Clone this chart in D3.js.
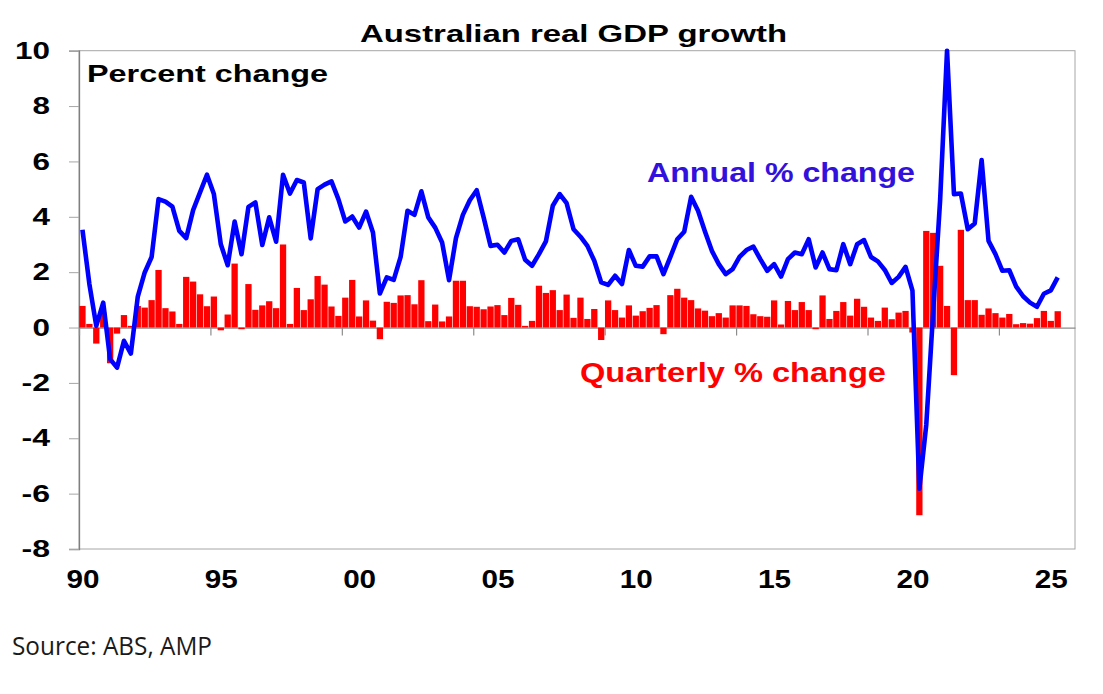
<!DOCTYPE html>
<meta charset="utf-8">

<!-- Load d3.js -->
<script src="https://d3js.org/d3.v7.min.js"></script>

<style>
  body { margin: 0; background: #fff; }
  text { font-family: "Liberation Sans", Arial, sans-serif; font-weight: bold; }
</style>

<!-- Create a div where the graph will take place -->
<div id="gdpchart"></div>

<script>
// Quarterly data, 1990 Q1 .. 2025 Q2
var annualChange = [
  3.53, 1.57, 0.06, 0.9, -1.14, -1.45, -0.48, -0.94, 1.12, 1.99,
  2.55, 4.64, 4.55, 4.37, 3.49, 3.23, 4.24, 4.88, 5.52, 4.82,
  3.01, 2.25, 3.83, 2.65, 4.36, 4.52, 2.98, 3.98, 3.10, 5.52,
  4.84, 5.33, 5.24, 3.22, 5.0, 5.16, 5.28, 4.64, 3.83, 4.01,
  3.61, 4.19, 3.43, 1.23, 1.81, 1.72, 2.55, 4.22, 4.07, 4.92,
  3.98, 3.61, 3.07, 1.71, 3.23, 4.07, 4.60, 4.96, 3.98, 2.95,
  2.99, 2.71, 3.13, 3.19, 2.45, 2.23, 2.65, 3.11, 4.40, 4.82,
  4.49, 3.55, 3.28, 2.95, 2.41, 1.63, 1.54, 1.87, 1.57, 2.80,
  2.23, 2.20, 2.57, 2.57, 1.93, 2.55, 3.19, 3.46, 4.72, 4.22,
  3.47, 2.77, 2.29, 1.93, 2.11, 2.55, 2.80, 2.92, 2.47, 2.05,
  2.29, 1.84, 2.47, 2.71, 2.65, 3.19, 2.17, 2.71, 2.11, 2.07,
  3.01, 2.29, 3.01, 3.16, 2.55, 2.39, 2.08, 1.61, 1.83, 2.19,
  1.33, -5.82, -3.5, 0.6, 4.6, 10.0, 4.82, 4.84, 3.55, 3.76,
  6.05, 3.13, 2.65, 2.05, 2.07, 1.48, 1.13, 0.90, 0.75, 1.22,
  1.34, 1.81
];

var quarterlyChange = [
  0.78, 0.13, -0.58, 0.55, -1.29, -0.22, 0.45, 0.06, 0.78, 0.72,
  0.99, 2.08, 0.70, 0.58, 0.13, 1.83, 1.66, 1.2, 0.77, 1.12,
  -0.1, 0.47, 2.31, -0.06, 1.57, 0.64, 0.8, 0.95, 0.70, 3.0,
  0.13, 1.43, 0.63, 1.02, 1.86, 1.55, 0.76, 0.42, 1.08, 1.72,
  0.40, 0.98, 0.25, -0.42, 0.93, 0.89, 1.16, 1.17, 0.84, 1.71,
  0.23, 0.83, 0.22, 0.40, 1.69, 1.69, 0.77, 0.75, 0.66, 0.76,
  0.81, 0.45, 1.07, 0.82, 0.06, 0.24, 1.51, 1.25, 1.35, 0.63,
  1.19, 0.35, 1.08, 0.31, 0.67, -0.45, 0.98, 0.63, 0.36, 0.80,
  0.43, 0.59, 0.71, 0.81, -0.24, 1.17, 1.40, 1.08, 0.99, 0.69,
  0.61, 0.41, 0.52, 0.36, 0.80, 0.80, 0.78, 0.48, 0.41, 0.39,
  0.98, 0.11, 0.96, 0.63, 0.92, 0.63, -0.06, 1.16, 0.31, 0.60,
  0.92, 0.43, 1.04, 0.75, 0.36, 0.24, 0.72, 0.30, 0.54, 0.60,
  -0.18, -6.78, 3.49, 3.42, 2.23, 0.78, -1.72, 3.53, 0.99, 0.99,
  0.46, 0.69, 0.52, 0.36, 0.49, 0.12, 0.16, 0.14, 0.34, 0.60,
  0.24, 0.59
];

// x axis labels sit every 20 quarters, starting 1990 Q1
var yearLabels = ["90", "95", "00", "05", "10", "15", "20", "25"];
var yTicks = [-8, -6, -4, -2, 0, 2, 4, 6, 8, 10];

// category slots run to 2025 Q4
var nSlots = 144;

var width = 1103;
var height = 694;
var plot = {left: 79, right: 1075, top: 50.7, bottom: 549};

var svg = d3.select("#gdpchart")
  .append("svg")
    .attr("width", width)
    .attr("height", height);

svg.append("rect")
  .attr("width", width)
  .attr("height", height)
  .attr("fill", "#fff");

var x = d3.scaleLinear()
  .domain([0, nSlots])
  .range([plot.left, plot.right]);

var y = d3.scaleLinear()
  .domain([-8, 10])
  .range([plot.bottom, plot.top]);

var step = x(1) - x(0);

// Title
svg.append("text")
  .attr("x", 360)
  .attr("y", 41.7)
  .attr("textLength", 427)
  .attr("lengthAdjust", "spacingAndGlyphs")
  .style("font-size", "24px")
  .text("Australian real GDP growth");

// Plot frame
svg.append("rect")
  .attr("x", plot.left)
  .attr("y", plot.top)
  .attr("width", plot.right - plot.left)
  .attr("height", plot.bottom - plot.top)
  .attr("fill", "none")
  .attr("stroke", "#a6a6a6")
  .attr("stroke-width", 1);

// Y axis
var yAxis = svg.append("g")
  .attr("transform", "translate(" + plot.left + ",0)")
  .call(d3.axisLeft(y)
    .tickValues(yTicks)
    .tickSize(10)
    .tickPadding(19)
    .tickFormat(function(d) { return String(d); }));

yAxis.select(".domain").attr("stroke", "#7f7f7f").attr("stroke-width", 1.3);
yAxis.selectAll(".tick line").attr("stroke", "#a6a6a6");
yAxis.selectAll(".tick text")
  .attr("fill", "#000")
  .style("font-size", "24px")
  .attr("textLength", function(d) {
    var s = String(d);
    return s.replace("-", "").length * 17.5 + (d < 0 ? 11 : 0);
  })
  .attr("lengthAdjust", "spacingAndGlyphs");

// Zero line with its tick marks
var zeroAxis = svg.append("g")
  .attr("transform", "translate(0," + y(0) + ")")
  .call(d3.axisBottom(x)
    .tickValues(d3.range(0, nSlots, 19))
    .tickSize(8)
    .tickSizeOuter(0)
    .tickFormat(""));

zeroAxis.select(".domain").attr("stroke", "#8c8c8c").attr("stroke-width", 1.2);
zeroAxis.selectAll(".tick line").attr("stroke", "#8c8c8c").attr("stroke-width", 1.2);

// Year labels below the plot
var labelAxis = svg.append("g")
  .attr("transform", "translate(0," + plot.bottom + ")")
  .call(d3.axisBottom(x)
    .tickValues(yearLabels.map(function(d, i) { return i * 20 + 0.5; }))
    .tickSize(0)
    .tickPadding(21)
    .tickFormat(function(d, i) { return yearLabels[i]; }));

labelAxis.select(".domain").remove();
labelAxis.selectAll(".tick text")
  .attr("fill", "#000")
  .style("font-size", "25px")
  .attr("textLength", 33)
  .attr("lengthAdjust", "spacingAndGlyphs");

// Quarterly bars
svg.append("g")
  .selectAll("rect")
  .data(quarterlyChange)
  .enter()
  .append("rect")
    .attr("x", function(d, i) { return x(i) + step * 0.045; })
    .attr("width", step * 0.91)
    .attr("y", function(d) { return y(Math.max(0, d)); })
    .attr("height", function(d) { return Math.abs(y(d) - y(0)); })
    .attr("fill", "#ff0000");

// Annual line
var line = d3.line()
  .x(function(d, i) { return x(i + 0.5); })
  .y(function(d) { return y(d); });

svg.append("path")
  .datum(annualChange)
  .attr("d", line)
  .attr("fill", "none")
  .attr("stroke", "#0000ff")
  .attr("stroke-width", 4.6)
  .attr("stroke-linejoin", "round");

// Labels inside the plot
svg.append("text")
  .attr("x", 87)
  .attr("y", 82)
  .attr("textLength", 241)
  .attr("lengthAdjust", "spacingAndGlyphs")
  .style("font-size", "24px")
  .text("Percent change");

svg.append("text")
  .attr("x", 647)
  .attr("y", 182)
  .attr("textLength", 268)
  .attr("lengthAdjust", "spacingAndGlyphs")
  .attr("fill", "#3311dd")
  .style("font-size", "27px")
  .text("Annual % change");

svg.append("text")
  .attr("x", 580)
  .attr("y", 382)
  .attr("textLength", 306)
  .attr("lengthAdjust", "spacingAndGlyphs")
  .attr("fill", "#ff0000")
  .style("font-size", "27px")
  .text("Quarterly % change");

// Source note
svg.append("text")
  .attr("x", 12)
  .attr("y", 655)
  .attr("textLength", 200)
  .attr("lengthAdjust", "spacingAndGlyphs")
  .attr("fill", "#1a1a1a")
  .style("font-family", "'Open Sans', 'Noto Sans', sans-serif")
  .style("font-weight", "normal")
  .style("font-size", "25px")
  .text("Source: ABS, AMP");
</script>
